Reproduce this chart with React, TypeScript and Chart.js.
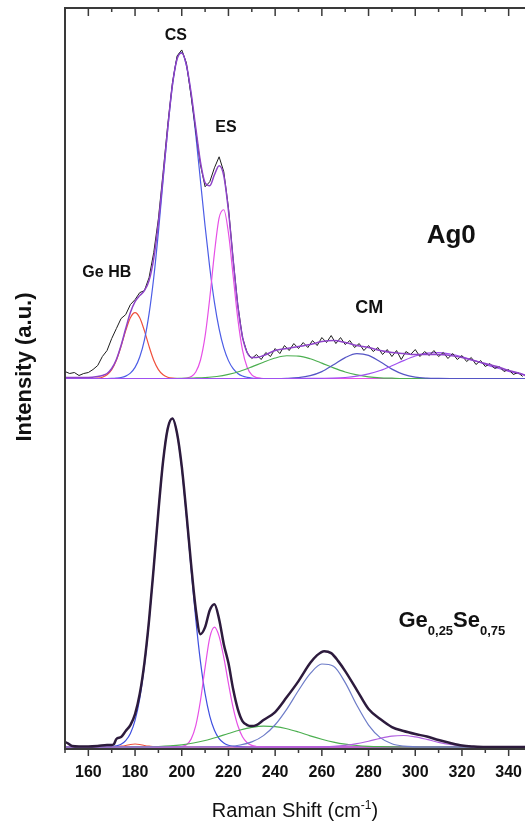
import React, { useEffect, useRef } from "react";
import { Chart, registerables } from "chart.js";

Chart.register(...registerables);

// ---------- axis ----------
const xTickLabels = [160, 180, 200, 220, 240, 260, 280, 300, 320, 340];
const xMinorTicks = [150, 170, 190, 210, 230, 250, 270, 290, 310, 330];

// ---------- upper spectrum (Ag0) ----------
const topDataShift = [150,152,154,156,158,160,162,164,166,168,170,172,174,176,178,180,182,184,186,188,190,192,194,196,198,200,202,204,206,208,210,212,214,216,218,220,222,224,226,228,230,232,234,236,238,240,242,244,246,248,250,252,254,256,258,260,262,264,266,268,270,272,274,276,278,280,282,284,286,288,290,292,294,296,298,300,302,304,306,308,310,312,314,316,318,320,322,324,326,328,330,332,334,336,338,340,342,344,346];
const topData = [
  7,5,6,3,5,6,9,13,22,28,
  40,50,60,64,74,79,86,88,101,126,
  160,206,254,296,323,329,316,283,248,214,
  192,197,211,222,207,171,120,74,41,26,
  20,24,19,26,22,30,25,33,28,35,
  30,36,31,38,33,41,36,43,35,41,
  34,38,31,35,28,33,27,31,24,29,
  22,28,19,27,24,29,22,27,23,28,
  22,26,20,25,19,23,17,21,14,18,
  12,15,10,12,7,9,4,6,2];

const topFitShift = [150,160,164,166,168,170,172,174,176,178,180,182,184,186,188,190,192,194,196,198,200,202,204,206,208,210,212,214,216,218,220,222,224,226,228,230,232,235,240,245,250,255,260,265,270,275,280,285,290,295,300,305,310,315,320,325,330,335,340,345,347];
const topFit = [
  1,1,2,3,5,10,19,33,50,66,
  77,83,88,98,120,156,202,251,294,320,
  326,314,286,251,217,196,193,204,213,203,
  168,119,73,42,26,21,21,
  23,28,30,32,34,37,38,36,33,31,
  28,26,25,24,24,24,23,21,18,15,
  12,8,5,3];

const topGeHBShift = [150,162,164,166,168,170,172,174,176,178,180,182,184,186,188,190,192,194,196,198,347];
const topGeHB = [0,0,0.4,1.3,3.7,8.9,18.3,32.1,47.9,60.9,66,60.9,47.9,32.1,18.3,8.9,3.7,1.3,0.3,0,0];

const topCSShift = [150,168,170,172,174,176,178,180,182,184,186,188,190,192,194,196,198,200,202,204,206,208,210,212,214,216,218,220,222,224,226,228,230,232,234,347];
const topCS = [0,0,0.1,0.4,1.0,2.4,5.4,11.1,21.5,38.5,64.7,100.9,146.6,198.3,249.9,293.3,320.5,326.4,313.2,284.2,244.2,198.3,152.5,110.9,76.3,49.7,30.6,17.9,9.8,5.1,2.5,1.2,0.5,0.2,0,0];

const topESShift = [150,200,202,204,206,208,210,212,214,216,218,220,222,224,226,228,230,232,234,236,347];
const topES = [0,0,0.5,1.9,6.5,18.3,42.4,80.6,125.6,160.8,169,145.7,103.1,59.9,28.6,11.2,3.6,0.9,0.2,0,0];

const topGreenShift = [150,195,200,205,210,215,220,225,230,235,240,245,250,255,260,265,270,275,280,285,290,295,347];
const topGreen = [0,0,0.2,0.5,0.9,2.0,4.1,7.3,11.6,16.3,20.5,22.8,22.5,19.8,15.4,10.6,6.5,3.6,1.7,0.7,0.3,0,0];

const topCMShift = [150,240,245,250,255,260,265,270,275,280,285,290,295,300,305,310,315,347];
const topCM = [0,0,0.2,0.9,2.8,6.9,13.7,20.9,24.9,23.1,16.7,9.4,4.1,1.4,0.4,0.1,0,0];

const topBroadShift = [150,250,255,260,265,270,275,280,285,290,295,300,305,310,315,320,325,330,335,340,345,347];
const topBroad = [0,0,0.1,0.2,0.4,1.0,2.3,4.6,8.0,12.7,17.9,22.5,25.5,26,24.5,21.7,18.1,14.2,10.5,7.2,4.7,3.9];

// ---------- lower spectrum (Ge0,25Se0,75) ----------
const lowTotalShift = [150,151,153,156,160,164,168,170,171,172,174,176,178,180,182,184,186,188,190,192,194,196,198,200,202,204,206,208,210,212,214,216,218,220,222,224,226,228,230,232,235,240,245,250,255,258,261,264,267,270,275,280,285,290,295,300,305,310,315,320,325,330,340,347];
const lowTotal = [
  5,4,1,0.5,0.5,1,2,2,3,8,
  10,16,22,33,53,84,127,180,236,286,
  319,329,314,281,234,183,138,113,120,137,
  143,128,103,84,58,38,26,22,21,22,
  27,35,50,66,84,92,96,94,86,76,
  57,38,28,20,16,13,10.5,7,4,1.5,
  0.5,0,0,0];

const lowGeHBShift = [150,168,170,172,174,176,178,180,182,184,186,188,190,192,347];
const lowGeHB = [0,0,0.1,0.4,0.8,1.5,2.5,3,2.5,1.5,0.8,0.4,0.1,0,0];

const lowCSShift = [150,166,168,170,172,174,176,178,180,182,184,186,188,190,192,194,196,198,200,202,204,206,208,210,212,214,216,218,220,222,224,226,228,347];
const lowCS = [0,0,0.1,0.4,1.1,2.7,6.3,13.4,26.6,48.5,81.4,126,179.6,236.2,286.2,319.4,329,313.9,279.1,231.2,178.4,128.1,85.8,53.4,31,16.8,8.4,4,1.7,0.7,0.3,0.1,0,0];

const lowESShift = [150,198,200,202,204,206,208,210,212,214,216,218,220,222,224,226,228,230,232,234,236,347];
const lowES = [0,0,0.5,2.3,7.9,21.4,46.3,79.7,109.5,120,110.8,89.7,63.6,39.5,21.5,10.2,4.3,1.6,0.5,0.1,0,0];

const lowGreenShift = [150,175,180,185,190,195,200,205,210,215,220,225,230,235,240,245,250,255,260,265,270,275,280,285,290,295,347];
const lowGreen = [0,0,0.1,0.2,0.5,1.1,2.2,4.0,6.5,9.8,13.5,17.0,19.7,21,20.4,18.3,15.0,11.2,7.8,4.9,2.8,1.5,0.7,0.3,0.1,0,0];

const lowMidShift = [150,205,210,215,220,225,230,235,240,245,250,255,260,265,270,275,280,285,290,295,300,305,347];
const lowMid = [0,0,0.1,0.2,0.7,2.0,5.1,11.4,22.3,38,56.6,73.4,83.1,80.9,64.5,41.8,22,9.4,3.3,0.9,0.2,0,0];

const lowBroadShift = [150,255,260,265,270,275,280,285,290,295,300,305,310,315,320,325,330,335,347];
const lowBroad = [0,0,0.2,0.6,1.6,3.3,5.8,8.7,10.9,11.5,10.1,7.6,4.7,2.5,1.1,0.4,0.1,0,0];

// ---------- styling / layout ----------
const TOP_OFFSET = 369;
const FONT = '"Liberation Sans", Arial, Helvetica, sans-serif';
const AXIS_COLOR = "#3a3a3a";
const TEXT_COLOR = "#111111";

const peakLabels = [
  { text: "CS", x: 197.5, y: 708, size: 16 },
  { text: "ES", x: 218.9, y: 616, size: 16 },
  { text: "Ge HB", x: 167.9, y: 471, size: 16 },
  { text: "CM", x: 280.3, y: 435, size: 18 },
  { text: "Ag0", x: 315.4, y: 505, size: 26 },
];

function series(shift: number[], values: number[], offset: number) {
  return shift.map((x, i) => ({ x, y: values[i] + offset }));
}

function line(label: string, data: any[], color: string, width: number, order: number, smooth = true) {
  return {
    label,
    data,
    borderColor: color,
    backgroundColor: color,
    borderWidth: width,
    pointRadius: 0,
    fill: false,
    order,
    cubicInterpolationMode: smooth ? "monotone" : "default",
    tension: 0,
  };
}

const decorPlugin = {
  id: "decor",
  afterDraw(chart: any) {
    const { ctx, chartArea: a, scales } = chart;
    const xs = scales.x;
    const ys = scales.y;
    ctx.save();
    // frame
    ctx.strokeStyle = AXIS_COLOR;
    ctx.lineWidth = 2;
    ctx.beginPath();
    ctx.moveTo(a.left, a.bottom);
    ctx.lineTo(a.left, a.top);
    ctx.lineTo(a.right, a.top);
    ctx.moveTo(a.left - 1, a.bottom);
    ctx.lineTo(a.right, a.bottom);
    ctx.stroke();
    // tick marks
    ctx.lineWidth = 1.5;
    ctx.beginPath();
    for (const v of xTickLabels) {
      const p = xs.getPixelForValue(v);
      ctx.moveTo(p, a.top);
      ctx.lineTo(p, a.top + 8);
      ctx.moveTo(p, a.bottom);
      ctx.lineTo(p, a.bottom + 7);
    }
    for (const v of xMinorTicks) {
      const p = xs.getPixelForValue(v);
      ctx.moveTo(p, a.top);
      ctx.lineTo(p, a.top + 4);
      ctx.moveTo(p, a.bottom);
      ctx.lineTo(p, a.bottom + 4);
    }
    ctx.stroke();

    ctx.fillStyle = TEXT_COLOR;
    ctx.textBaseline = "alphabetic";
    // peak labels
    for (const l of peakLabels) {
      ctx.font = `bold ${l.size}px ${FONT}`;
      ctx.textAlign = "center";
      ctx.fillText(l.text, xs.getPixelForValue(l.x), ys.getPixelForValue(l.y));
    }
    // composition label with subscripts
    {
      let px = xs.getPixelForValue(292.8);
      const py = ys.getPixelForValue(120);
      ctx.textAlign = "left";
      const parts = [
        { t: "Ge", sub: false },
        { t: "0,25", sub: true },
        { t: "Se", sub: false },
        { t: "0,75", sub: true },
      ];
      for (const part of parts) {
        ctx.font = part.sub ? `bold 13px ${FONT}` : `bold 22px ${FONT}`;
        ctx.fillText(part.t, px, part.sub ? py + 8 : py);
        px += ctx.measureText(part.t).width;
      }
    }
    // x title with superscript
    {
      const main1 = "Raman Shift (cm";
      const sup = "-1";
      const main2 = ")";
      ctx.font = `20px ${FONT}`;
      const w1 = ctx.measureText(main1).width;
      const w3 = ctx.measureText(main2).width;
      ctx.font = `12px ${FONT}`;
      const w2 = ctx.measureText(sup).width;
      const total = w1 + w2 + w3;
      let px = (a.left + a.right) / 2 - total / 2;
      const py = 817;
      ctx.textAlign = "left";
      ctx.font = `20px ${FONT}`;
      ctx.fillText(main1, px, py);
      px += w1;
      ctx.font = `12px ${FONT}`;
      ctx.fillText(sup, px, py - 8);
      px += w2;
      ctx.font = `20px ${FONT}`;
      ctx.fillText(main2, px, py);
    }
    // y title
    ctx.save();
    ctx.translate(25, 367);
    ctx.rotate(-Math.PI / 2);
    ctx.font = `bold 22px ${FONT}`;
    ctx.textAlign = "center";
    ctx.textBaseline = "middle";
    ctx.fillText("Intensity (a.u.)", 0, 0);
    ctx.restore();

    ctx.restore();
  },
};

export default function App() {
  const canvasRef = useRef<HTMLCanvasElement | null>(null);

  useEffect(() => {
    const canvas = canvasRef.current;
    if (!canvas) return;

    const datasets: any[] = [
      // upper panel
      line("Ag0 fit", series(topFitShift, topFit, TOP_OFFSET), "#8e44c8", 1.5, 0),
      line("Ag0 data", series(topDataShift, topData, TOP_OFFSET), "#1e1e1e", 1, 1, false),
      line("broad 2", series(topBroadShift, topBroad, TOP_OFFSET), "#a050f0", 1.2, 2),
      line("CM", series(topCMShift, topCM, TOP_OFFSET), "#5555c5", 1.2, 3),
      line("broad 1", series(topGreenShift, topGreen, TOP_OFFSET), "#4caf50", 1.2, 3),
      line("ES", series(topESShift, topES, TOP_OFFSET), "#e650e6", 1.2, 3),
      line("CS", series(topCSShift, topCS, TOP_OFFSET), "#4b5ce6", 1.2, 3),
      line("Ge HB", series(topGeHBShift, topGeHB, TOP_OFFSET), "#f0503c", 1.2, 3),
      // lower panel
      line("GeSe total", series(lowTotalShift, lowTotal, 0), "#2d1b3d", 2.5, 0),
      line("GeSe broad 2", series(lowBroadShift, lowBroad, 0), "#b060e0", 1.2, 2),
      line("GeSe CM", series(lowMidShift, lowMid, 0), "#6d7cc8", 1.2, 3),
      line("GeSe broad 1", series(lowGreenShift, lowGreen, 0), "#4caf50", 1.2, 3),
      line("GeSe ES", series(lowESShift, lowES, 0), "#e650e6", 1.2, 3),
      line("GeSe CS", series(lowCSShift, lowCS, 0), "#3f4fe0", 1.2, 3),
      line("GeSe Ge HB", series(lowGeHBShift, lowGeHB, 0), "#f0503c", 1.2, 3),
    ];

    const chart = new Chart(canvas, {
      type: "line",
      data: { datasets },
      options: {
        responsive: false,
        animation: false,
        events: [],
        layout: { padding: { left: 65, right: 0, top: 8, bottom: 28.8 } },
        plugins: { legend: { display: false }, tooltip: { enabled: false } },
        elements: { point: { radius: 0 } },
        scales: {
          x: {
            type: "linear",
            min: 150,
            max: 347,
            grid: { display: false, drawTicks: false },
            border: { display: false },
            afterBuildTicks: (s: any) => {
              s.ticks = xTickLabels.map((v) => ({ value: v }));
            },
            afterFit: (s: any) => {
              s.paddingLeft = 0;
              s.paddingRight = 0;
            },
            ticks: {
              autoSkip: false,
              maxRotation: 0,
              padding: 14,
              color: TEXT_COLOR,
              font: { family: FONT, size: 16, weight: "bold" },
              callback: (v: any) => String(v),
            },
          },
          y: { type: "linear", display: false, min: -2, max: 740 },
        },
      },
      plugins: [decorPlugin],
    } as any);

    return () => chart.destroy();
  }, []);

  return (
    <div style={{ position: "absolute", left: 0, top: 0, width: 525, height: 825, background: "#fff" }}>
      <canvas ref={canvasRef} width={525} height={825} style={{ display: "block" }} />
    </div>
  );
}
